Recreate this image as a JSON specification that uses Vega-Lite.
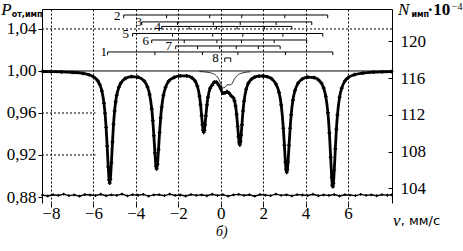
{
"$schema": "https://vega.github.io/schema/vega-lite/v6.json",
"width": 350, "height": 194,
"autosize": {"type": "none"},
"padding": {"left": 42, "top": 9, "right": 71, "bottom": 48},
"background": "white",
"config": {"view": {"stroke": null}, "axis": {"labelFont": "Liberation Serif", "labelColor": "black", "tickColor": "black", "domainColor": "black", "labelFontSize": 17, "gridColor": "black", "gridDash": [2,2], "gridOpacity": 1, "gridWidth": 1, "labelFlush": false}},
"datasets": {
"fit": [
{"v":-8.4,"p":0.9995},{"v":-8.0,"p":0.9994},{"v":-7.5,"p":0.9992},{"v":-7.0,"p":0.9987},{"v":-6.5,"p":0.9978},{"v":-6.2,"p":0.9964},{"v":-6.0,"p":0.9946},{"v":-5.8,"p":0.9908},{"v":-5.7,"p":0.9871},{"v":-5.6,"p":0.981},{"v":-5.5,"p":0.9692},{"v":-5.45,"p":0.9597},{"v":-5.4,"p":0.9463},{"v":-5.35,"p":0.9285},{"v":-5.3,"p":0.9087},{"v":-5.26,"p":0.8965},{"v":-5.23,"p":0.8933},{"v":-5.2,"p":0.897},{"v":-5.15,"p":0.9125},{"v":-5.1,"p":0.9323},{"v":-5.05,"p":0.9493},{"v":-5.0,"p":0.9618},{"v":-4.95,"p":0.9707},{"v":-4.9,"p":0.9769},{"v":-4.8,"p":0.9844},{"v":-4.7,"p":0.9887},{"v":-4.5,"p":0.9929},{"v":-4.2,"p":0.9947},{"v":-3.9,"p":0.9942},{"v":-3.6,"p":0.9904},{"v":-3.45,"p":0.9848},{"v":-3.35,"p":0.9777},{"v":-3.25,"p":0.9638},{"v":-3.2,"p":0.9528},{"v":-3.15,"p":0.9384},{"v":-3.1,"p":0.922},{"v":-3.05,"p":0.9093},{"v":-3.02,"p":0.9068},{"v":-2.98,"p":0.9111},{"v":-2.93,"p":0.9252},{"v":-2.88,"p":0.9415},{"v":-2.83,"p":0.9553},{"v":-2.78,"p":0.9657},{"v":-2.7,"p":0.9767},{"v":-2.6,"p":0.9844},{"v":-2.45,"p":0.9904},{"v":-2.2,"p":0.9938},{"v":-1.9,"p":0.9953},{"v":-1.6,"p":0.9953},{"v":-1.35,"p":0.9934},{"v":-1.2,"p":0.9903},{"v":-1.1,"p":0.9855},{"v":-1.0,"p":0.9761},{"v":-0.95,"p":0.9681},{"v":-0.9,"p":0.9576},{"v":-0.86,"p":0.9488},{"v":-0.83,"p":0.9438},{"v":-0.8,"p":0.9416},{"v":-0.77,"p":0.9436},{"v":-0.74,"p":0.9486},{"v":-0.7,"p":0.9572},{"v":-0.65,"p":0.9675},{"v":-0.6,"p":0.9749},{"v":-0.5,"p":0.9835},{"v":-0.4,"p":0.9865},{"v":-0.3,"p":0.9895},{"v":-0.2,"p":0.9893},{"v":-0.1,"p":0.9867},{"v":0.0,"p":0.983},{"v":0.1,"p":0.9788},{"v":0.2,"p":0.9791},{"v":0.3,"p":0.9803},{"v":0.4,"p":0.9788},{"v":0.5,"p":0.9762},{"v":0.6,"p":0.9744},{"v":0.65,"p":0.9716},{"v":0.7,"p":0.9666},{"v":0.75,"p":0.9585},{"v":0.8,"p":0.9471},{"v":0.84,"p":0.9373},{"v":0.87,"p":0.9318},{"v":0.9,"p":0.9297},{"v":0.93,"p":0.9326},{"v":0.96,"p":0.9387},{"v":1.0,"p":0.9489},{"v":1.05,"p":0.9618},{"v":1.1,"p":0.9712},{"v":1.2,"p":0.9825},{"v":1.3,"p":0.9882},{"v":1.45,"p":0.9922},{"v":1.6,"p":0.9941},{"v":1.8,"p":0.9951},{"v":2.0,"p":0.9952},{"v":2.2,"p":0.9945},{"v":2.4,"p":0.9926},{"v":2.6,"p":0.9875},{"v":2.75,"p":0.9795},{"v":2.85,"p":0.9677},{"v":2.95,"p":0.9454},{"v":3.0,"p":0.9293},{"v":3.05,"p":0.913},{"v":3.08,"p":0.9061},{"v":3.11,"p":0.9035},{"v":3.14,"p":0.9061},{"v":3.17,"p":0.913},{"v":3.22,"p":0.9293},{"v":3.27,"p":0.9454},{"v":3.32,"p":0.9583},{"v":3.4,"p":0.9721},{"v":3.5,"p":0.9815},{"v":3.65,"p":0.9885},{"v":3.85,"p":0.9924},{"v":4.1,"p":0.9942},{"v":4.4,"p":0.9937},{"v":4.6,"p":0.9917},{"v":4.75,"p":0.9882},{"v":4.85,"p":0.9838},{"v":4.95,"p":0.9757},{"v":5.05,"p":0.9602},{"v":5.12,"p":0.941},{"v":5.18,"p":0.9178},{"v":5.23,"p":0.8985},{"v":5.26,"p":0.8913},{"v":5.28,"p":0.8898},{"v":5.31,"p":0.8931},{"v":5.35,"p":0.9056},{"v":5.4,"p":0.926},{"v":5.45,"p":0.9445},{"v":5.5,"p":0.958},{"v":5.6,"p":0.975},{"v":5.7,"p":0.9836},{"v":5.85,"p":0.9904},{"v":6.0,"p":0.9936},{"v":6.3,"p":0.9965},{"v":6.7,"p":0.998},{"v":7.2,"p":0.9989},{"v":7.6,"p":0.9992},{"v":8.05,"p":0.9994}
],
"comp8": [
{"v":-1.0,"p":0.9994},{"v":-0.6,"p":0.9987},{"v":-0.4,"p":0.9977},{"v":-0.2,"p":0.9953},{"v":-0.1,"p":0.9926},{"v":0.0,"p":0.9882},{"v":0.1,"p":0.9839},{"v":0.2,"p":0.9845},{"v":0.3,"p":0.9868},{"v":0.4,"p":0.9867},{"v":0.5,"p":0.9871},{"v":0.6,"p":0.9906},{"v":0.7,"p":0.994},{"v":0.8,"p":0.9961},{"v":1.0,"p":0.998},{"v":1.4,"p":0.9992}
],
"resid": [
{"v":-8.4,"p":0.8818},{"v":-8.15,"p":0.881},{"v":-7.9,"p":0.8822},{"v":-7.65,"p":0.8815},{"v":-7.4,"p":0.8827},{"v":-7.15,"p":0.8813},{"v":-6.9,"p":0.882},{"v":-6.65,"p":0.8808},{"v":-6.4,"p":0.8824},{"v":-6.15,"p":0.8819},{"v":-5.9,"p":0.8814},{"v":-5.65,"p":0.8826},{"v":-5.4,"p":0.8812},{"v":-5.15,"p":0.8821},{"v":-4.9,"p":0.8816},{"v":-4.65,"p":0.8828},{"v":-4.4,"p":0.8811},{"v":-4.15,"p":0.8823},{"v":-3.9,"p":0.8817},{"v":-3.65,"p":0.8825},{"v":-3.4,"p":0.8809},{"v":-3.15,"p":0.882},{"v":-2.9,"p":0.8822},{"v":-2.65,"p":0.8813},{"v":-2.4,"p":0.8827},{"v":-2.15,"p":0.8815},{"v":-1.9,"p":0.8819},{"v":-1.65,"p":0.881},{"v":-1.4,"p":0.8824},{"v":-1.15,"p":0.8816},{"v":-0.9,"p":0.8821},{"v":-0.65,"p":0.8812},{"v":-0.4,"p":0.8826},{"v":-0.15,"p":0.8814},{"v":0.1,"p":0.8823},{"v":0.35,"p":0.8809},{"v":0.6,"p":0.882},{"v":0.85,"p":0.8825},{"v":1.1,"p":0.8815},{"v":1.35,"p":0.8822},{"v":1.6,"p":0.8808},{"v":1.85,"p":0.8824},{"v":2.1,"p":0.8818},{"v":2.35,"p":0.8813},{"v":2.6,"p":0.8827},{"v":2.85,"p":0.8816},{"v":3.1,"p":0.8821},{"v":3.35,"p":0.8811},{"v":3.6,"p":0.8823},{"v":3.85,"p":0.8819},{"v":4.1,"p":0.8814},{"v":4.35,"p":0.8826},{"v":4.6,"p":0.8812},{"v":4.85,"p":0.882},{"v":5.1,"p":0.8815},{"v":5.35,"p":0.8824},{"v":5.6,"p":0.881},{"v":5.85,"p":0.8822},{"v":6.1,"p":0.8818},{"v":6.35,"p":0.8813},{"v":6.6,"p":0.8825},{"v":6.85,"p":0.8816},{"v":7.1,"p":0.8821},{"v":7.35,"p":0.8812},{"v":7.6,"p":0.8823},{"v":7.85,"p":0.8817},{"v":8.05,"p":0.882}
],
"sticks": [
{"v":-5.33,"v2":5.28,"p":1.0181,"p2":1.0181},
{"v":-4.57,"v2":5.04,"p":1.0533,"p2":1.0533},
{"v":-3.72,"v2":4.29,"p":1.0467,"p2":1.0467},
{"v":-2.78,"v2":3.35,"p":1.0424,"p2":1.0424},
{"v":-4.15,"v2":4.81,"p":1.0357,"p2":1.0357},
{"v":-3.25,"v2":4.05,"p":1.0295,"p2":1.0295},
{"v":-2.12,"v2":2.8,"p":1.0238,"p2":1.0238},
{"v":0.19,"v2":0.47,"p":1.0124,"p2":1.0124},
{"v":-5.33,"v2":-5.33,"p":1.0181,"p2":1.0151},{"v":-3.1,"v2":-3.1,"p":1.0181,"p2":1.0151},{"v":-0.86,"v2":-0.86,"p":1.0181,"p2":1.0151},{"v":0.81,"v2":0.81,"p":1.0181,"p2":1.0151},{"v":3.05,"v2":3.05,"p":1.0181,"p2":1.0151},{"v":5.28,"v2":5.28,"p":1.0181,"p2":1.0151},
{"v":-4.57,"v2":-4.57,"p":1.0533,"p2":1.0503},{"v":-2.55,"v2":-2.55,"p":1.0533,"p2":1.0503},{"v":-0.52,"v2":-0.52,"p":1.0533,"p2":1.0503},{"v":0.99,"v2":0.99,"p":1.0533,"p2":1.0503},{"v":3.02,"v2":3.02,"p":1.0533,"p2":1.0503},{"v":5.04,"v2":5.04,"p":1.0533,"p2":1.0503},
{"v":-3.72,"v2":-3.72,"p":1.0467,"p2":1.0437},{"v":-2.04,"v2":-2.04,"p":1.0467,"p2":1.0437},{"v":-0.35,"v2":-0.35,"p":1.0467,"p2":1.0437},{"v":0.92,"v2":0.92,"p":1.0467,"p2":1.0437},{"v":2.61,"v2":2.61,"p":1.0467,"p2":1.0437},{"v":4.29,"v2":4.29,"p":1.0467,"p2":1.0437},
{"v":-2.78,"v2":-2.78,"p":1.0424,"p2":1.0394},{"v":-1.49,"v2":-1.49,"p":1.0424,"p2":1.0394},{"v":-0.2,"v2":-0.2,"p":1.0424,"p2":1.0394},{"v":0.77,"v2":0.77,"p":1.0424,"p2":1.0394},{"v":2.06,"v2":2.06,"p":1.0424,"p2":1.0394},{"v":3.35,"v2":3.35,"p":1.0424,"p2":1.0394},
{"v":-4.15,"v2":-4.15,"p":1.0357,"p2":1.0327},{"v":-2.27,"v2":-2.27,"p":1.0357,"p2":1.0327},{"v":-0.38,"v2":-0.38,"p":1.0357,"p2":1.0327},{"v":1.04,"v2":1.04,"p":1.0357,"p2":1.0327},{"v":2.93,"v2":2.93,"p":1.0357,"p2":1.0327},{"v":4.81,"v2":4.81,"p":1.0357,"p2":1.0327},
{"v":-3.25,"v2":-3.25,"p":1.0295,"p2":1.0265},{"v":-1.72,"v2":-1.72,"p":1.0295,"p2":1.0265},{"v":-0.18,"v2":-0.18,"p":1.0295,"p2":1.0265},{"v":0.98,"v2":0.98,"p":1.0295,"p2":1.0265},{"v":2.52,"v2":2.52,"p":1.0295,"p2":1.0265},{"v":4.05,"v2":4.05,"p":1.0295,"p2":1.0265},
{"v":-2.12,"v2":-2.12,"p":1.0238,"p2":1.0208},{"v":-1.09,"v2":-1.09,"p":1.0238,"p2":1.0208},{"v":-0.05,"v2":-0.05,"p":1.0238,"p2":1.0208},{"v":0.73,"v2":0.73,"p":1.0238,"p2":1.0208},{"v":1.77,"v2":1.77,"p":1.0238,"p2":1.0208},{"v":2.8,"v2":2.8,"p":1.0238,"p2":1.0208},
{"v":0.19,"v2":0.19,"p":1.0124,"p2":1.0086},{"v":0.47,"v2":0.47,"p":1.0124,"p2":1.0086}
],
"nums": [
{"v":-5.51,"p":1.0184,"t":"1"},{"v":-4.88,"p":1.0524,"t":"2"},{"v":-3.86,"p":1.0467,"t":"3"},{"v":-2.97,"p":1.0419,"t":"4"},{"v":-4.48,"p":1.0352,"t":"5"},{"v":-3.53,"p":1.0286,"t":"6"},{"v":-2.45,"p":1.0238,"t":"7"},{"v":-0.24,"p":1.0119,"t":"8"}
]
},
"layer": [
{
"encoding": {
"x": {"field": "v", "type": "quantitative", "scale": {"domain": [-8.42, 8.07], "nice": false, "zero": false},
 "axis": {"orient": "bottom", "values": [-8,-6,-4,-2,0,2,4,6], "grid": true, "domain": false, "tickSize": 4, "labelPadding": -2, "labelFontSize": 17, "title": null}},
"y": {"field": "p", "type": "quantitative", "scale": {"domain": [0.8743, 1.059], "nice": false, "zero": false},
 "axis": {"orient": "left", "values": [0.88,0.92,0.96,1.0,1.04], "grid": false, "tickSize": 4, "labelPadding": 2, "labelExpr": "replace(format(datum.value,'.2f'),'.',',')", "title": null}}
},
"layer": [
{"data": {"values": [{"v":-8.42,"v2":8.07,"p":1.04},{"v":-8.42,"v2":-5.9,"p":0.96},{"v":-8.42,"v2":-5.9,"p":0.92}]},
 "mark": {"type": "rule", "color": "black", "strokeWidth": 1, "strokeDash": [2,2]},
 "encoding": {"x2": {"field": "v2"}}},
{"data": {"values": [{"v":-8.42,"v2":8.07,"p":1.0}]},
 "mark": {"type": "rule", "color": "black", "strokeWidth": 1},
 "encoding": {"x2": {"field": "v2"}}},
{"data": {"name": "comp8"}, "mark": {"type": "line", "color": "black", "strokeWidth": 0.8, "interpolate": "monotone"}},
{"data": {"name": "fit"}, "mark": {"type": "line", "color": "black", "strokeWidth": 2.8, "interpolate": "monotone"}},
{"data": {"name": "fit"}, "mark": {"type": "point", "shape": "cross", "filled": true, "color": "black", "size": 14, "opacity": 1}},
{"data": {"name": "resid"}, "mark": {"type": "line", "color": "black", "strokeWidth": 1.4}},
{"data": {"name": "resid"}, "mark": {"type": "point", "shape": "cross", "filled": true, "color": "black", "size": 8, "opacity": 1}},
{"data": {"name": "sticks"}, "mark": {"type": "rule", "color": "black", "strokeWidth": 1},
 "encoding": {"x2": {"field": "v2"}, "y2": {"field": "p2"}}},
{"data": {"name": "nums"}, "mark": {"type": "text", "font": "Liberation Serif", "fontSize": 13, "color": "black", "align": "center", "baseline": "middle"},
 "encoding": {"text": {"field": "t"}}},
{"data": {"values": [{"v":-10.1,"p":1.0585,"t":"P"},{"v":8.62,"p":1.0576,"t":"N"}]},
 "mark": {"type": "text", "font": "Liberation Serif", "fontStyle": "italic", "fontSize": 17, "color": "black", "align": "center", "baseline": "middle"},
 "encoding": {"text": {"field": "t"}}},
{"data": {"values": [{"v":8.29,"p":0.8572,"t":"v"}]},
 "mark": {"type": "text", "font": "Liberation Serif", "fontStyle": "italic", "fontSize": 17, "color": "black", "align": "center", "baseline": "middle"},
 "encoding": {"text": {"field": "t"}}},
{"data": {"values": [{"v":0.05,"p":0.8467,"t":"б)"}]},
 "mark": {"type": "text", "font": "Liberation Serif", "fontStyle": "italic", "fontSize": 14, "color": "black", "align": "center", "baseline": "middle"},
 "encoding": {"text": {"field": "t"}}},
{"data": {"values": [{"v":-9.12,"p":1.0535,"t":"от,имп"},{"v":9.4,"p":1.0535,"t":"имп"}]},
 "mark": {"type": "text", "font": "DejaVu Sans", "fontWeight": "bold", "fontSize": 8, "color": "black", "align": "center", "baseline": "middle"},
 "encoding": {"text": {"field": "t"}}},
{"data": {"values": [{"v":10.28,"p":1.0576,"t":"·10"}]},
 "mark": {"type": "text", "font": "Liberation Serif", "fontWeight": "bold", "fontSize": 17, "color": "black", "align": "center", "baseline": "middle"},
 "encoding": {"text": {"field": "t"}}},
{"data": {"values": [{"v":11.14,"p":1.0612,"t":"−4"}]},
 "mark": {"type": "text", "font": "Liberation Serif", "fontSize": 10, "color": "black", "align": "center", "baseline": "middle"},
 "encoding": {"text": {"field": "t"}}},
{"data": {"values": [{"v":8.48,"p":0.8572,"t":", мм/с"}]},
 "mark": {"type": "text", "font": "DejaVu Sans", "fontSize": 13, "color": "black", "align": "left", "baseline": "middle"},
 "encoding": {"text": {"field": "t"}}}
]
},
{
"data": {"values": [{"v": 0, "n": 104}, {"v": 0, "n": 120}]},
"mark": {"type": "point", "opacity": 0},
"encoding": {
"x": {"field": "v", "type": "quantitative", "scale": {"domain": [-8.42, 8.07], "nice": false, "zero": false},
 "axis": {"orient": "top", "labels": false, "ticks": false, "grid": false, "domain": true, "title": null}},
"y": {"field": "n", "type": "quantitative", "scale": {"domain": [102.4, 123.54], "nice": false, "zero": false},
 "axis": {"orient": "right", "values": [104,108,112,116,120], "grid": false, "tickSize": -4, "labelPadding": 12, "labelFontSize": 17, "title": null}}
}
}
],
"resolve": {"scale": {"y": "independent"}, "axis": {"x": "independent"}}
}
